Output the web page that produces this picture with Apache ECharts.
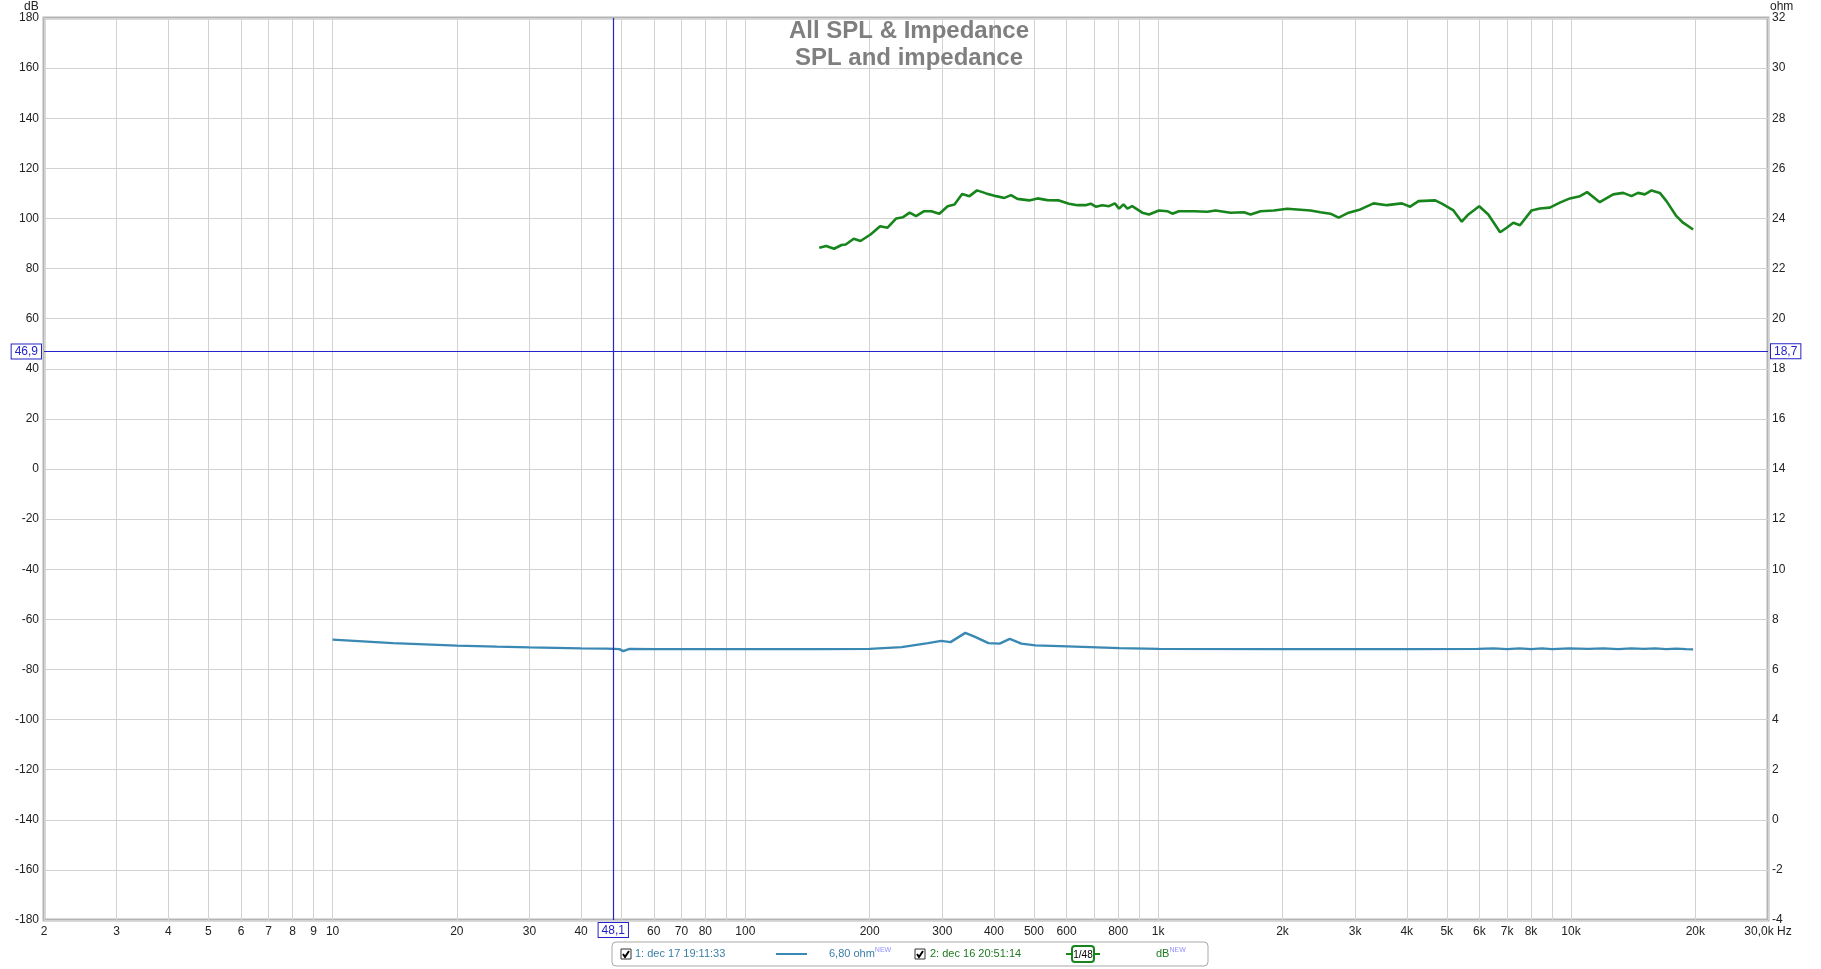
<!DOCTYPE html>
<html>
<head>
<meta charset="utf-8">
<script src="https://cdn.jsdelivr.net/npm/echarts@6/dist/echarts.min.js"></script>
<style>html,body{margin:0;padding:0;background:#fff;}#c{width:1821px;height:969px;}</style>
</head>
<body>
<div id="c"></div>
<script>
// ---- data ----
const splFreq = [151,157,164,171,175,183,190,201,212,221,232,241,250,259,271,282,295,309,321,335,349,364,383,405,424,440,456,487,510,539,575,608,637,667,686,706,732,760,785,804,824,842,865,915,950,1004,1052,1082,1122,1221,1315,1377,1497,1613,1674,1770,1906,2053,2171,2338,2472,2613,2736,2893,3088,3324,3582,3894,4077,4271,4689,4866,5190,5437,5641,5992,6303,6733,6985,7248,7520,8025,8400,8885,9397,9938,10510,10940,11740,12650,13380,14010,14530,15090,15670,16410,17030,18000,18680,19760];
const splDb = [88.3,89.0,87.9,89.4,89.6,91.9,91.0,93.6,96.9,96.3,100.0,100.5,102.3,100.9,102.9,102.9,101.9,104.9,105.6,109.8,108.9,111.2,110.0,108.9,108.2,109.3,107.8,107.2,108.0,107.3,107.2,105.9,105.3,105.3,105.9,104.7,105.3,104.9,106.0,103.9,105.6,103.9,104.9,102.3,101.6,103.2,102.9,101.9,102.9,102.9,102.7,103.2,102.3,102.5,101.6,102.9,103.2,103.9,103.6,103.2,102.5,101.9,100.3,102.3,103.6,106.0,105.3,106.0,104.7,106.9,107.2,105.9,103.2,98.7,101.6,104.9,101.6,94.5,96.3,98.3,97.3,103.2,104.0,104.3,106.3,108.0,108.9,110.5,106.5,109.6,110.2,108.9,110.2,109.6,111.2,110.2,106.9,100.9,98.3,95.6];
const impFreq = [10,14,20,25,30,40,46,48.1,49.5,50.6,52.4,60.5,100,150,200,239,277,298,314,341,360,388,413,437,466,504,603,805,1005,2004,4000,5940,6500,7000,7500,8000,8500,9000,9900,11000,12000,13000,14000,15000,16000,17000,18000,19000,19760];
const impOhm = [7.19,7.05,6.95,6.91,6.88,6.84,6.83,6.82,6.81,6.73,6.82,6.81,6.81,6.81,6.82,6.89,7.05,7.14,7.09,7.46,7.30,7.05,7.03,7.22,7.03,6.96,6.92,6.85,6.82,6.81,6.81,6.82,6.84,6.81,6.84,6.81,6.84,6.81,6.84,6.82,6.84,6.81,6.84,6.82,6.84,6.81,6.83,6.81,6.80];
const dbTicks = {min: -180, max: 180, step: 20};
const ohmTicks = {min: -4, max: 32, step: 2};
const gridFreqs = [2,3,4,5,6,7,8,9,10,20,30,40,50,60,70,80,90,100,200,300,400,500,600,700,800,900,1000,2000,3000,4000,5000,6000,7000,8000,9000,10000,20000,30000];
const labelFreqs = [2,3,4,5,6,7,8,9,10,20,30,40,60,70,80,100,200,300,400,500,600,800,1000,2000,3000,4000,5000,6000,7000,8000,10000,20000,30000];
const cursorHz = 48.1, cursorDb = 46.9, cursorOhm = 18.7;
const titleLines = ['All SPL & Impedance', 'SPL and impedance'];

// ---- chart ----
const L = Math.log10;
const FONT = 'Arial, "Liberation Sans", sans-serif';
const BLUE = '#3a88b4', GREEN = '#17851c', CUR = '#2424c8';
function fmtHz(v) {
  const f = Math.round(Math.pow(10, v));
  if (f >= 30000) return '30,0k Hz';
  if (f >= 1000) return (f / 1000) + 'k';
  return String(f);
}
const chart = echarts.init(document.getElementById('c'));
const boxLabel = {
  show: true, color: CUR, fontSize: 12, fontFamily: FONT,
  backgroundColor: '#fff', borderColor: CUR, borderWidth: 1, padding: [2, 3, 0, 3]
};
function checkbox(x, y) {
  return [
    {type: 'rect', shape: {x: x, y: y, width: 10, height: 10}, style: {fill: '#fff', stroke: '#333', lineWidth: 1}},
    {type: 'polyline', shape: {points: [[x + 2, y + 5], [x + 4, y + 8], [x + 8, y + 2]]}, style: {stroke: '#000', lineWidth: 2, fill: null}}
  ];
}
const lgY = 954;
const graphic = [
  {type: 'text', x: 909, y: 18, z: 10, style: {text: titleLines.join('\n'), fill: '#7f7f7f', fontSize: 24, fontWeight: 'bold', fontFamily: FONT, align: 'center', lineHeight: 27}},
  {type: 'rect', shape: {x: 612, y: 942, width: 596, height: 24, r: 4}, style: {fill: '#fff', stroke: '#a8a8a8', lineWidth: 1}},
  ...checkbox(621, lgY - 5),
  {type: 'text', x: 635, y: lgY, style: {text: '1: dec 17 19:11:33', fill: '#3a7fa6', fontSize: 11, fontFamily: FONT, verticalAlign: 'middle'}},
  {type: 'line', shape: {x1: 776, y1: lgY, x2: 807, y2: lgY}, style: {stroke: BLUE, lineWidth: 2}},
  {type: 'text', x: 829, y: lgY, style: {text: '6,80 ohm{s|NEW}', fill: '#3a7fa6', fontSize: 11, fontFamily: FONT, verticalAlign: 'middle', rich: {s: {fontSize: 7, fill: '#8f8fff', verticalAlign: 'top', padding: [0, 0, 8, 0]}}}},
  ...checkbox(915, lgY - 5),
  {type: 'text', x: 930, y: lgY, style: {text: '2: dec 16 20:51:14', fill: '#1f7a1f', fontSize: 11, fontFamily: FONT, verticalAlign: 'middle'}},
  {type: 'line', shape: {x1: 1066, y1: lgY, x2: 1100, y2: lgY}, style: {stroke: GREEN, lineWidth: 2}},
  {type: 'rect', shape: {x: 1072, y: lgY - 8, width: 22, height: 16, r: 3}, style: {fill: '#fff', stroke: GREEN, lineWidth: 2}},
  {type: 'text', x: 1083, y: lgY + 1, style: {text: '1/48', fill: '#000', fontSize: 10, fontFamily: FONT, align: 'center', verticalAlign: 'middle'}},
  {type: 'text', x: 1156, y: lgY, style: {text: 'dB{s|NEW}', fill: '#1f7a1f', fontSize: 11, fontFamily: FONT, verticalAlign: 'middle', rich: {s: {fontSize: 7, fill: '#8f8fff', padding: [0, 0, 8, 0]}}}},
  {type: 'text', x: 24, y: 1, style: {text: 'dB', fill: '#222', fontSize: 12, fontFamily: FONT}},
  {type: 'text', x: 1770, y: 1, style: {text: 'ohm', fill: '#222', fontSize: 12, fontFamily: FONT}}
];

chart.setOption({
  animation: false,
  backgroundColor: '#fff',
  grid: {left: 44, right: 53, top: 18, bottom: 49, show: true, borderColor: '#b4b4b4', borderWidth: 3, backgroundColor: '#fff'},
  xAxis: {
    type: 'value', min: L(2), max: L(30000),
    axisLine: {show: false},
    axisTick: {show: false, customValues: gridFreqs.map(L)},
    splitLine: {show: true, lineStyle: {color: '#d2d2d2', width: 1}},
    axisLabel: {customValues: labelFreqs.map(L), formatter: fmtHz, color: '#222', fontSize: 12, fontFamily: FONT, margin: 6, showMinLabel: true, showMaxLabel: true, hideOverlap: false}
  },
  yAxis: [
    {type: 'value', min: dbTicks.min, max: dbTicks.max, interval: dbTicks.step, position: 'left',
     axisLine: {show: false}, axisTick: {show: false},
     splitLine: {show: true, lineStyle: {color: '#d2d2d2', width: 1}},
     axisLabel: {color: '#222', fontSize: 12, fontFamily: FONT, margin: 5}},
    {type: 'value', min: ohmTicks.min, max: ohmTicks.max, interval: ohmTicks.step, position: 'right',
     axisLine: {show: false}, axisTick: {show: false}, splitLine: {show: false},
     axisLabel: {color: '#222', fontSize: 12, fontFamily: FONT, margin: 4}}
  ],
  series: [
    {type: 'line', name: 'SPL', yAxisIndex: 0, showSymbol: false, symbol: 'none',
     data: splFreq.map((f, i) => [L(f), splDb[i]]),
     lineStyle: {color: GREEN, width: 2.6}, z: 3,
     markLine: {silent: true, symbol: 'none', animation: false,
       lineStyle: {color: CUR, width: 1.2, type: 'solid'},
       data: [
         {xAxis: L(cursorHz), label: Object.assign({}, boxLabel, {position: 'start', distance: 3, formatter: '48,1'})},
         {yAxis: cursorDb, label: Object.assign({}, boxLabel, {position: 'start', distance: 3, formatter: '46,9'})}
       ]}},
    {type: 'line', name: 'Impedance', yAxisIndex: 1, showSymbol: false, symbol: 'none',
     data: impFreq.map((f, i) => [L(f), impOhm[i]]),
     lineStyle: {color: BLUE, width: 2.4}, z: 3,
     markLine: {silent: true, symbol: 'none', animation: false,
       lineStyle: {color: CUR, width: 1.2, type: 'solid'},
       data: [
         {yAxis: cursorOhm, label: Object.assign({}, boxLabel, {position: 'end', distance: 3, formatter: '18,7'})}
       ]}}
  ],
  graphic: graphic
});
</script>
</body>
</html>
